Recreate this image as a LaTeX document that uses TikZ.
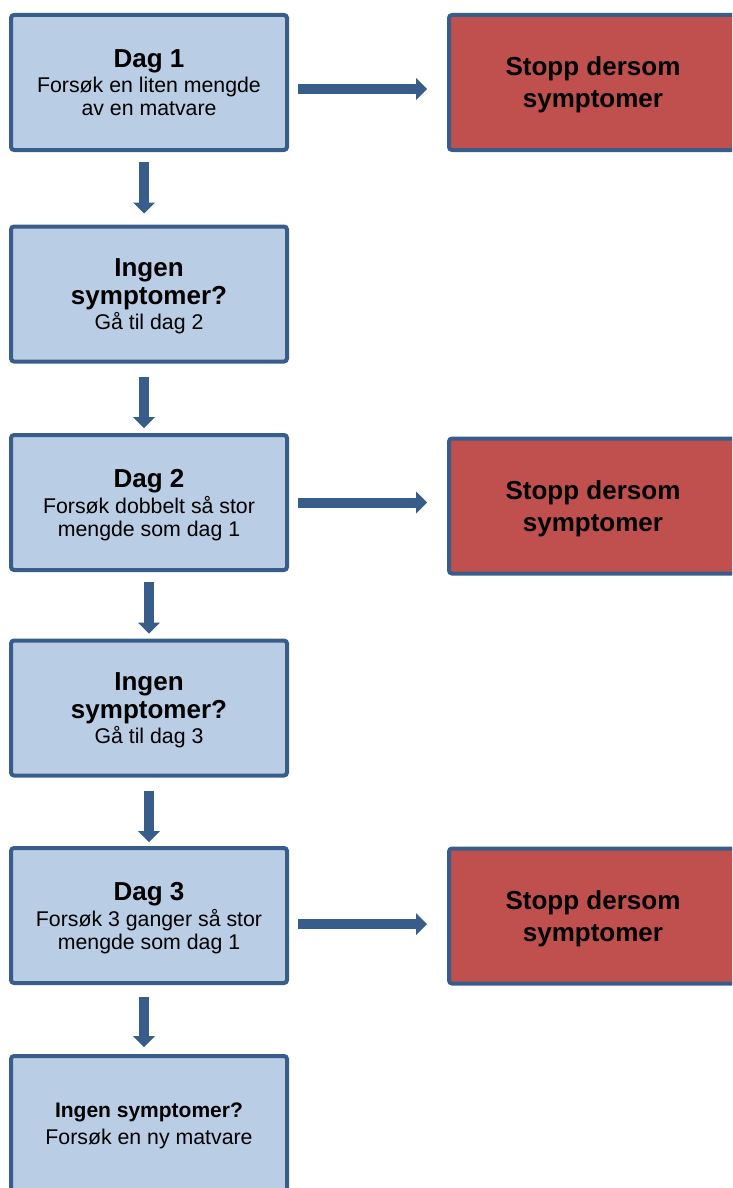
\documentclass[tikz,border=0pt]{standalone}
\usepackage{fontspec}
\setmainfont{Liberation Sans}
\usetikzlibrary{arrows.meta,positioning}
\definecolor{boxblue}{HTML}{B9CDE5}
\definecolor{edgeblue}{HTML}{385D8A}
\definecolor{stopred}{HTML}{C0504D}
\newcommand{\headfont}{\bfseries\fontsize{26}{26}\selectfont}
\newcommand{\smallhead}{\bfseries\fontsize{21}{23}\selectfont}
\tikzset{
    daybox/.style={draw=edgeblue, fill=boxblue, line width=4pt, rounded corners=3pt,
        minimum width=276pt, minimum height=135pt, inner sep=0pt, align=center,
        text depth=0pt, font=\fontsize{21.3}{23}\selectfont},
    stopbox/.style={daybox, fill=stopred, minimum width=288pt,
        font=\bfseries\fontsize{26}{32}\selectfont},
    blockarrow/.style={edgeblue, line width=10pt,
        -{Triangle[width=22pt, length=11pt, line width=0pt]}}
}

\begin{document}
\begin{tikzpicture}[x=1pt, y=-1pt]
                                \useasboundingbox (0, 0) rectangle (732, 1188);
                                \clip (0, 0) rectangle (732, 1188);
                                % left column
                                \node[daybox] (dag1) at (149, 82.5) {\headfont Dag 1\\[2pt] Forsøk en liten mengde\\ av en matvare};
                                \node[daybox] (ingen1) at (149, 294) {\headfont Ingen\\[4pt] \headfont symptomer?\\[2pt] Gå til dag 2};
                                \node[daybox] (dag2) at (149, 502.5) {\headfont Dag 2\\[3pt] Forsøk dobbelt så stor\\ mengde som dag 1};
                                \node[daybox] (ingen2) at (149, 708) {\headfont Ingen\\[4pt] \headfont symptomer?\\[2pt] Gå til dag 3};
                                \node[daybox] (dag3) at (149, 915.5) {\headfont Dag 3\\[3pt] Forsøk 3 ganger så stor\\ mengde som dag 1};
                                \node[daybox] (ny) at (149, 1123.5) {\smallhead Ingen symptomer?\\[4pt] Forsøk en ny matvare};
                                % right column
                                \node[stopbox] (stopp1) at (593, 82.5) {Stopp dersom\\ symptomer};
                                \node[stopbox] (stopp2) at (593, 506) {Stopp dersom\\ symptomer};
                                \node[stopbox] (stopp3) at (593, 916) {Stopp dersom\\ symptomer};
                                % arrows down
                                \draw[blockarrow, shorten <=10pt, shorten >=11pt] ([xshift=-5pt]dag1.south) -- ([xshift=-5pt]ingen1.north);
                                \draw[blockarrow, shorten <=13pt, shorten >=5pt] ([xshift=-5pt]ingen1.south) -- ([xshift=-5pt]dag2.north);
                                \draw[blockarrow, shorten <=10pt, shorten >=5pt] (dag2.south) -- (ingen2.north);
                                \draw[blockarrow, shorten <=13pt, shorten >=4pt] (ingen2.south) -- (dag3.north);
                                \draw[blockarrow, shorten <=12pt, shorten >=7pt] ([xshift=-5pt]dag3.south) -- ([xshift=-5pt]ny.north);
                                % arrows right
                                \draw[blockarrow, shorten <=9pt, shorten >=20pt] ([yshift=-6.5pt]dag1.east) -- ([yshift=-6.5pt]dag1.east -| stopp1.west);
                                \draw[blockarrow, shorten <=9pt, shorten >=20pt] (dag2.east) -- (dag2.east -| stopp2.west);
                                \draw[blockarrow, shorten <=9pt, shorten >=20pt] ([yshift=-8.5pt]dag3.east) -- ([yshift=-8.5pt]dag3.east -| stopp3.west);
                            \end{tikzpicture}
\end{document}
